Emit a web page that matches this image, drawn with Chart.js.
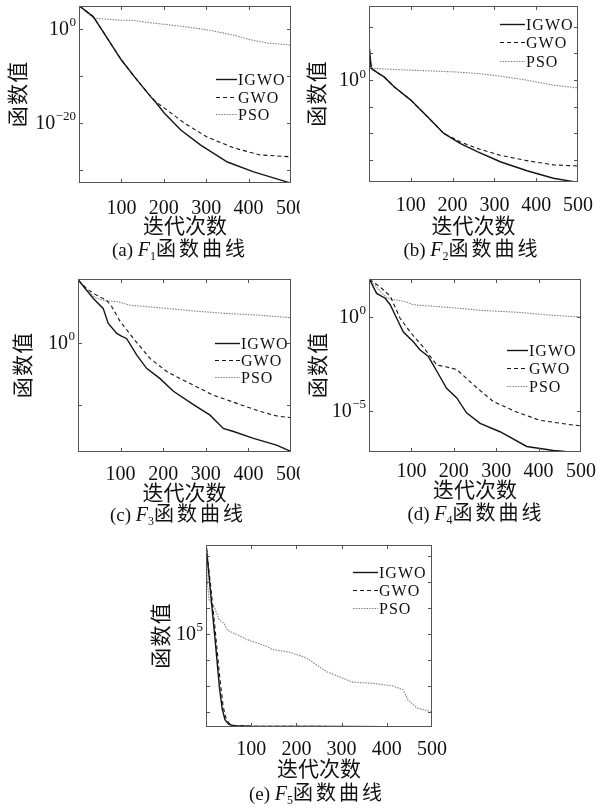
<!DOCTYPE html>
<html>
<head>
<meta charset="utf-8">
<script src="https://cdn.jsdelivr.net/npm/chart.js@4.4.0/dist/chart.umd.min.js"></script>
<style>
  body { margin: 0; background: #fff; width: 597px; height: 808px; position: relative; overflow: hidden; }
  canvas { position: absolute; }
  .cap { position: absolute; width: 220px; text-align: center; line-height: 24px; font-family: "Liberation Serif", serif; font-size: 19px; color: #111; white-space: nowrap; }
  .cap i { font-size: 20px; }
  .cap sub { font-size: 12px; vertical-align: -4px; line-height: 0; }
  .cap .zh { font-family: "Noto Sans CJK SC", sans-serif; font-size: 20px; letter-spacing: 3px; }
</style>
</head>
<body>
<canvas id="chartA" width="300" height="236" style="left:0;top:0"></canvas>
<canvas id="chartB" width="297" height="236" style="left:300px;top:0"></canvas>
<canvas id="chartC" width="300" height="238" style="left:0;top:265px"></canvas>
<canvas id="chartD" width="297" height="235" style="left:300px;top:265px"></canvas>
<canvas id="chartE" width="320" height="244" style="left:140px;top:535px"></canvas>

<div class="cap" style="left:70px;top:236px">(a) <i>F</i><sub>1</sub><span class="zh">函数曲线</span></div>
<div class="cap" style="left:362px;top:236px">(b) <i>F</i><sub>2</sub><span class="zh">函数曲线</span></div>
<div class="cap" style="left:68px;top:501px">(c) <i>F</i><sub>3</sub><span class="zh">函数曲线</span></div>
<div class="cap" style="left:366px;top:500px">(d) <i>F</i><sub>4</sub><span class="zh">函数曲线</span></div>
<div class="cap" style="left:207px;top:780px">(e) <i>F</i><sub>5</sub><span class="zh">函数曲线</span></div>

<script>
// iteration ticks shared by all five plots
const xTicks = [100, 200, 300, 400, 500];

// (a) F1  -- [iteration, fitness]
const igwoA = [[1, 7.8e4], [34, 4e2], [54, 6.3e-1], [100, 2.5e-7], [131, 6.3e-11], [170, 3.2e-15], [180, 3.2e-16], [201, 1.3e-18], [240, 3.2e-22], [287, 2e-25], [350, 5e-29], [412, 4e-31], [500, 1.6e-33]];
const gwoA = [[1, 7.8e4], [34, 4e2], [54, 6.3e-1], [100, 2.5e-7], [131, 6.3e-11], [170, 3.2e-15], [180, 4e-16], [201, 1.6e-17], [248, 1e-20], [302, 1e-23], [365, 5e-26], [427, 1.6e-27], [500, 6.3e-28]];
const psoA = [[1, 7.8e4], [34, 2e2], [93, 7.9e1], [131, 6.3e1], [171, 2e1], [249, 3.2], [303, 6.3e-1], [365, 5e-2], [405, 5e-3], [444, 1e-3], [500, 4e-4]];
const yTicksA = [1e-30, 1e-20, 1e-10, 1];
const yExpA = ['', '−20', '', '0'];   // exponent shown after "10", '' = unlabelled tick

// (b) F2
const igwoB = [[1, 7.9e5], [3, 1e4], [5, 1.6e2], [20, 2.5e1], [36, 4], [60, 5.6e-2], [100, 1.8e-4], [140, 1.3e-7], [179, 1e-10], [219, 1.3e-12], [259, 4e-14], [314, 5e-16], [378, 1e-17], [441, 4e-19], [500, 6.3e-20]];
const gwoB = [[1, 7.9e5], [3, 2e4], [5, 1.6e2], [20, 2.5e1], [36, 4], [60, 5.6e-2], [100, 1.8e-4], [140, 1.3e-7], [179, 1e-10], [219, 2.5e-12], [259, 1.6e-13], [314, 7.9e-15], [378, 7.9e-16], [441, 1.3e-16], [500, 7.9e-17]];
const psoB = [[1, 7.9e5], [4, 1e4], [8, 1.6e2], [60, 1e2], [140, 5.6e1], [203, 3.5e1], [259, 1.8e1], [314, 5.6], [378, 1], [441, 1.1e-1], [500, 3.5e-2]];
const yTicksB = [1e-15, 1e-10, 1e-5, 1, 1e5, 1e10];
const yExpB = ['', '', '', '0', '', ''];

// (c) F3
const igwoC = [[1, 1e5], [36, 3.5e3], [59, 5.6e2], [71, 3.5e1], [91, 5.6], [103, 3.2], [114, 2.2], [138, 1e-1], [161, 8.9e-3], [192, 1.4e-3], [224, 1.3e-4], [271, 1.1e-5], [310, 1.6e-6], [341, 1.4e-7], [365, 7.9e-8], [412, 2.2e-8], [466, 6.3e-9], [500, 2e-9]];
const gwoC = [[1, 1e5], [20, 2.2e4], [36, 8.9e3], [67, 2.5e3], [79, 7.9e2], [99, 5e1], [130, 2.2], [169, 5.6e-2], [208, 5e-3], [239, 1.4e-3], [271, 4e-4], [318, 6.3e-5], [373, 1.4e-5], [427, 3.2e-6], [466, 1.4e-6], [500, 1e-6]];
const psoC = [[1, 1e5], [28, 8.9e3], [44, 3.5e3], [67, 2.2e3], [91, 2e3], [122, 1e3], [192, 6.3e2], [271, 3.5e2], [349, 2.2e2], [427, 1.6e2], [500, 1e2]];
const yTicksC = [1e-5, 1];
const yExpC = ['', '0'];

// (d) F4
const igwoD = [[1, 1e2], [18, 1.8e1], [38, 1e1], [50, 4.5], [65, 8.9e-1], [81, 1.6e-1], [104, 5e-2], [120, 1.8e-2], [140, 7.9e-3], [160, 1.3e-3], [183, 1.6e-4], [207, 5e-5], [230, 8e-6], [262, 2.2e-6], [309, 7.9e-7], [372, 1.3e-7], [435, 7.9e-8], [462, 7.1e-8], [500, 4e-8]];
const gwoD = [[1, 1e2], [26, 4e1], [50, 1.3e1], [73, 8.9e-1], [97, 1.6e-1], [128, 2.5e-2], [160, 2.8e-3], [183, 2.2e-3], [207, 1.6e-3], [246, 2.5e-4], [293, 3.2e-5], [348, 8.9e-6], [403, 3.2e-6], [466, 2e-6], [500, 1.6e-6]];
const psoD = [[1, 1e2], [42, 1e1], [89, 6.3], [104, 4.5], [191, 3.2], [270, 2.2], [348, 1.8], [427, 1.26], [500, 1]];
const yTicksD = [1e-5, 1];
const yExpD = ['−5', '0'];

// (e) F5
const igwoE = [[1, 2e8], [10, 4e6], [20, 6.3e4], [30, 7.9e2], [36, 1.26e2], [42, 5e1], [50, 34], [60, 29.5], [100, 28], [200, 27.6], [300, 27.4], [400, 27.2], [500, 27]];
const gwoE = [[1, 2e8], [10, 7.9e6], [20, 1.6e5], [30, 2.5e3], [38, 1.6e2], [45, 5e1], [53, 34], [65, 29.5], [100, 28.2], [200, 27.8], [300, 27.6], [400, 27.4], [500, 27.2]];
const psoE = [[1, 2e8], [3, 8.9e6], [7, 2e6], [18, 1.1e6], [29, 3.5e5], [40, 2.5e5], [47, 1.4e5], [70, 9.1e4], [92, 5.9e4], [114, 4.4e4], [136, 3.2e4], [147, 2.5e4], [184, 2e4], [222, 1.2e4], [267, 3.5e3], [324, 1.4e3], [369, 1.26e3], [413, 1e3], [436, 7.1e2], [447, 2.9e2], [467, 1.4e2], [500, 1e2]];
const yTicksE = [1e2, 1e3, 1e4, 1e5, 1e6, 1e7, 1e8];
const yExpE = ['', '', '', '5', '', '', ''];

const SERIF = '"Liberation Serif", "DejaVu Serif", serif';
const CJK = '"Noto Sans CJK SC", sans-serif';

// box around the plot + matlab style inward ticks + "10^n" labels
const framePlugin = {
  id: 'frame',
  afterDatasetsDraw(chart, args, opts) {
    const { ctx, chartArea: a, scales } = chart;
    ctx.save();
    ctx.strokeStyle = '#555';
    ctx.lineWidth = 1;
    ctx.setLineDash([]);
    ctx.strokeRect(a.left + 0.5, a.top + 0.5, a.right - a.left - 1, a.bottom - a.top - 1);
    ctx.beginPath();
    scales.x.ticks.forEach((t) => {
      const px = Math.round(scales.x.getPixelForValue(t.value)) + 0.5;
      if (px < a.left + 3 || px > a.right - 3) return;
      ctx.moveTo(px, a.bottom); ctx.lineTo(px, a.bottom - 4);
      ctx.moveTo(px, a.top); ctx.lineTo(px, a.top + 4);
    });
    scales.y.ticks.forEach((t) => {
      const py = Math.round(scales.y.getPixelForValue(t.value)) + 0.5;
      if (py < a.top + 3 || py > a.bottom - 3) return;
      ctx.moveTo(a.left, py); ctx.lineTo(a.left + 4, py);
      ctx.moveTo(a.right, py); ctx.lineTo(a.right - 4, py);
    });
    ctx.stroke();

    // power-of-ten labels: base "10" plus a raised, smaller exponent
    ctx.fillStyle = '#111';
    ctx.textAlign = 'right';
    ctx.textBaseline = 'middle';
    scales.y.ticks.forEach((t, i) => {
      const exp = opts.exps[i];
      if (!exp) return;
      const py = scales.y.getPixelForValue(t.value);
      const xr = a.left - 3;
      ctx.font = '13px ' + SERIF;
      const w = ctx.measureText(exp).width;
      ctx.fillText(exp, xr, py - 6);
      ctx.font = '20px ' + SERIF;
      ctx.fillText('10', xr - w - 0.5, py + 1);
    });
    ctx.restore();
  },
};

// legend drawn inside the plot box
const boxLegend = {
  id: 'boxLegend',
  afterDraw(chart, args, opts) {
    const ctx = chart.ctx;
    ctx.save();
    ctx.font = '16px ' + SERIF;
    ctx.textBaseline = 'middle';
    ctx.letterSpacing = '1px';
    chart.data.datasets.forEach((ds, i) => {
      const y = Math.round(opts.y + i * opts.gap) + 0.5;
      ctx.strokeStyle = ds.borderColor;
      ctx.lineWidth = ds.borderWidth;
      ctx.setLineDash(ds.borderDash || []);
      ctx.beginPath();
      ctx.moveTo(opts.x, y);
      ctx.lineTo(opts.x + opts.len, y);
      ctx.stroke();
      ctx.fillStyle = '#111';
      ctx.fillText(ds.label, opts.x + opts.len + 1, y + 1);
    });
    ctx.restore();
  },
};

const panels = [
  { id: 'chartA', igwo: igwoA, gwo: gwoA, pso: psoA, yMin: 1.7e-33, yMax: 7.8e4, yTicks: yTicksA, yExps: yExpA,
    yw: 79, top: 6, right: 9, xh: 53, tickPad: 6, yTitlePad: 6.5, legend: { x: 216, y: 79, gap: 17.5, len: 21 } },
  { id: 'chartB', igwo: igwoB, gwo: gwoB, pso: psoB, yMin: 7.9e-20, yMax: 7.9e13, yTicks: yTicksB, yExps: yExpB,
    yw: 69, top: 6, right: 19, xh: 54, tickPad: 4, yTitlePad: 5.5, legend: { x: 200, y: 24, gap: 18.3, len: 25 } },
  { id: 'chartC', igwo: igwoC, gwo: gwoC, pso: psoC, yMin: 1.8e-9, yMax: 1.26e5, yTicks: yTicksC, yExps: yExpC,
    yw: 78, top: 14, right: 9, xh: 51, tickPad: 3, yTitlePad: 11.5, legend: { x: 215, y: 77.7, gap: 17.2, len: 25 } },
  { id: 'chartD', igwo: igwoD, gwo: gwoD, pso: psoD, yMin: 6.6e-8, yMax: 1.05e2, yTicks: yTicksD, yExps: yExpD,
    yw: 69, top: 14, right: 16, xh: 48, tickPad: 0, yTitlePad: 6.5, legend: { x: 207, y: 85, gap: 17.8, len: 21 } },
  { id: 'chartE', igwo: igwoE, gwo: gwoE, pso: psoE, yMin: 26.3, yMax: 2.6e8, yTicks: yTicksE, yExps: yExpE,
    yw: 66, top: 10, right: 28, xh: 52, tickPad: 3, yTitlePad: 9.5, legend: { x: 213, y: 36.7, gap: 18, len: 25 } },
];

function toPoints(pairs) {
  return pairs.map(([x, y]) => ({ x, y }));
}

function makeChart(p) {
  return new Chart(document.getElementById(p.id), {
    type: 'line',
    data: {
      datasets: [
        { label: 'IGWO', data: toPoints(p.igwo), borderColor: '#151515', borderWidth: 1.4 },
        { label: 'GWO', data: toPoints(p.gwo), borderColor: '#151515', borderWidth: 1.1, borderDash: [4, 3] },
        { label: 'PSO', data: toPoints(p.pso), borderColor: '#808080', borderWidth: 1.1, borderDash: [1.5, 1.2] },
      ],
    },
    options: {
      responsive: false,
      animation: false,
      events: [],
      elements: { point: { radius: 0 }, line: { tension: 0 } },
      layout: { padding: { top: p.top, right: p.right, left: 0, bottom: 0 } },
      plugins: {
        legend: { display: false },
        tooltip: { enabled: false },
        boxLegend: p.legend,
        frame: { exps: p.yExps },
      },
      scales: {
        x: {
          type: 'linear',
          min: 0,
          max: 500,
          afterBuildTicks: (s) => { s.ticks = xTicks.map((v) => ({ value: v })); },
          afterFit: (s) => { s.height = p.xh; s.paddingLeft = 0; s.paddingRight = 0; },
          grid: { display: false },
          border: { display: false },
          ticks: { autoSkip: false, maxRotation: 0, padding: p.tickPad, color: '#111', font: { family: SERIF, size: 20 } },
          title: { display: true, text: '迭代次数', color: '#111', font: { family: CJK, size: 21, lineHeight: 1 }, padding: { top: 0, bottom: 0 } },
        },
        y: {
          type: 'logarithmic',
          min: p.yMin,
          max: p.yMax,
          afterBuildTicks: (s) => { s.ticks = p.yTicks.map((v) => ({ value: v })); },
          afterFit: (s) => { s.width = p.yw; s.paddingTop = 0; s.paddingBottom = 0; },
          grid: { display: false },
          border: { display: false },
          ticks: { display: false },
          title: { display: true, text: '函\u200A数\u200A值', color: '#111', font: { family: CJK, size: 21, lineHeight: 1 }, padding: { top: p.yTitlePad, bottom: 0 } },
        },
      },
    },
    plugins: [framePlugin, boxLegend],
  });
}

panels.forEach(makeChart);
</script>
</body>
</html>
